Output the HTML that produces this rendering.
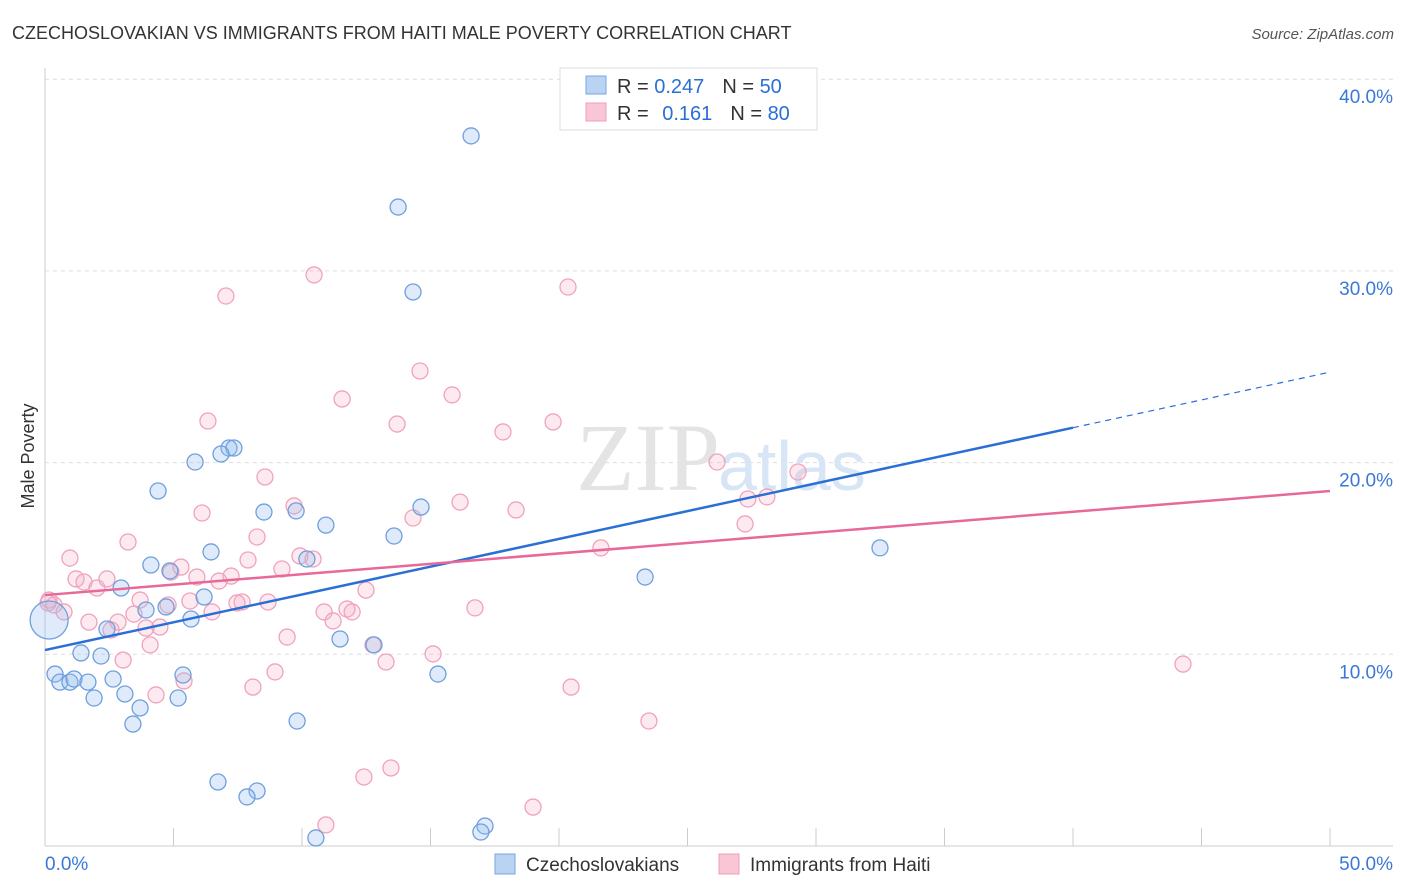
<!DOCTYPE html>
<html><head><meta charset="utf-8"><style>
body{margin:0;background:#fff;font-family:"Liberation Sans",sans-serif;}
svg{display:block}
</style></head><body>
<svg width="1406" height="892">
<text x="12" y="39" font-size="18" fill="#333">CZECHOSLOVAKIAN VS IMMIGRANTS FROM HAITI MALE POVERTY CORRELATION CHART</text>
<text x="1394" y="39" font-size="15" fill="#555" text-anchor="end" font-style="italic">Source: ZipAtlas.com</text>
<text x="34" y="456" font-size="18" fill="#333" text-anchor="middle" transform="rotate(-90 34 456)">Male Poverty</text>
<g id="grid"></g>
<text x="720" y="490" font-size="96" fill="#e4e4e4" font-family="Liberation Serif,serif" text-anchor="end">ZIP</text>
<text x="718" y="490" font-size="70" fill="#d7e5f5" text-anchor="start">atlas</text>
<g id="pts"></g>
<g id="lines"></g>
<g>
<rect x="560" y="68" width="257" height="62" fill="#fff" stroke="#ddd"/>
<rect x="586" y="76" width="20" height="18" fill="#b9d3f3" stroke="#7aa6e0"/>
<rect x="586" y="103" width="20" height="18" fill="#f9c6d6" stroke="#ee9cb8"/>
<text x="617" y="93" font-size="20" fill="#333">R = <tspan fill="#2a6fd6">0.247</tspan><tspan dx="18">N = </tspan><tspan fill="#2a6fd6">50</tspan></text>
<text x="617" y="120" font-size="20" fill="#333">R = <tspan dx="8" fill="#2a6fd6">0.161</tspan><tspan dx="18">N = </tspan><tspan fill="#2a6fd6">80</tspan></text>
</g>
<g>
<rect x="495" y="854" width="20" height="20" fill="#b9d3f3" stroke="#7aa6e0"/>
<text x="526" y="871" font-size="19" fill="#333">Czechoslovakians</text>
<rect x="719" y="854" width="20" height="20" fill="#f9c6d6" stroke="#ee9cb8"/>
<text x="750" y="871" font-size="19" fill="#333">Immigrants from Haiti</text>
</g>
</svg>
<script>
const blueX=[16.58,13.74,14.32,7.16,7.35,6.85,5.84,4.40,8.52,9.77,14.63,10.93,13.58,6.46,32.49,4.12,4.86,10.19,23.35,2.96,6.19,3.93,4.71,5.68,2.41,0.16,11.48,12.80,1.40,2.18,0.39,0.58,0.97,1.13,1.67,2.65,5.37,15.29,3.11,1.91,5.18,3.70,9.81,3.42,6.73,8.25,7.86,17.12,16.96,10.54];
const blueY=[37.04,33.33,28.90,20.76,20.76,20.45,20.03,18.52,17.42,17.48,17.68,16.74,16.17,15.34,15.55,14.66,14.35,14.97,14.03,13.46,12.99,12.31,12.47,11.84,11.32,11.79,10.80,10.49,10.07,9.91,8.97,8.55,8.55,8.71,8.55,8.71,8.92,8.97,7.93,7.72,7.72,7.20,6.52,6.36,3.34,2.87,2.56,1.04,0.73,0.42];
const pinkX=[10.47,7.04,20.35,14.59,15.84,11.56,6.34,13.70,17.82,19.77,26.15,29.30,8.56,27.35,28.09,16.15,9.69,18.33,6.11,14.32,27.24,3.23,8.25,21.63,9.92,0.97,10.43,7.90,5.29,4.90,1.21,1.52,2.02,2.41,7.24,6.77,5.91,9.22,12.49,0.16,0.35,0.74,3.70,4.79,5.64,7.67,8.68,3.46,6.50,7.47,10.86,11.75,11.95,16.73,1.71,2.84,4.47,2.57,11.21,3.93,9.42,4.09,12.76,3.04,15.10,13.27,8.95,5.41,4.32,8.09,20.47,44.28,23.50,13.46,12.41,18.99,10.93,0.12];
const pinkY=[29.79,28.69,29.16,24.78,23.53,23.32,22.17,22.01,21.60,22.12,20.03,19.51,19.25,18.10,18.21,17.94,17.74,17.53,17.37,17.11,16.80,15.86,16.12,15.55,15.13,15.02,14.97,14.92,14.55,14.29,13.93,13.77,13.46,13.93,14.08,13.82,14.03,14.45,13.35,12.83,12.57,12.21,12.83,12.57,12.78,12.73,12.73,12.10,12.21,12.68,12.21,12.36,12.21,12.42,11.68,11.68,11.42,11.27,11.74,11.37,10.90,10.49,10.49,9.70,10.02,9.60,9.08,8.61,7.88,8.29,8.29,9.49,6.52,4.07,3.60,2.03,1.10,12.68];
const blueTrend=[10.22,0.290];
const pinkTrend=[13.09,0.1086];
const yTicks=[10,20,30,40];
const yTickLabels=["10.0%","20.0%","30.0%","40.0%"];
const xTicks=[0,5,10,15,20,25,30,35,40,45,50];
const NS="http://www.w3.org/2000/svg";
const sx=v=>45+v*25.7, sy=v=>846-v*19.17;
function mk(t,a,p){const e=document.createElementNS(NS,t);for(const k in a)e.setAttribute(k,a[k]);p.appendChild(e);return e;}
const grid=document.getElementById('grid');
mk('line',{x1:45,y1:68,x2:45,y2:846,stroke:'#ccc'},grid);
mk('line',{x1:45,y1:846,x2:1393,y2:846,stroke:'#ccc'},grid);
yTicks.forEach((v,i)=>{
 const l=mk('line',{x1:45,y1:sy(v),x2:1393,y2:sy(v),stroke:'#ddd','stroke-dasharray':'4,4'},grid);
 
 
 const t=mk('text',{x:1393,y:sy(v)+24,'font-size':19,fill:'#3a78d8','text-anchor':'end'},grid);
 t.textContent=yTickLabels[i];
 
 
});
xTicks.forEach(v=>{
 const l=mk('line',{x1:sx(v),y1:828,x2:sx(v),y2:846,stroke:'#ccc'},grid);
 
 
});
let t=mk('text',{x:45,y:870,'font-size':19,fill:'#3a78d8'},grid);t.textContent='0.0%';


t=mk('text',{x:1393,y:870,'font-size':19,fill:'#3a78d8','text-anchor':'end'},grid);t.textContent='50.0%';


const pts=document.getElementById('pts');
pinkX.forEach((x,i)=>{
 const c=mk('circle',{cx:sx(x),cy:sy(pinkY[i]),r:8,fill:'rgba(246,170,196,0.25)',stroke:'#f0a2bd','stroke-width':1.3},pts);
 
 
});
blueX.forEach((x,i)=>{
 const c=mk('circle',{cx:sx(x),cy:sy(blueY[i]),r:i==25?19:8,fill:'rgba(150,190,238,0.3)',stroke:'#6f9fdd','stroke-width':1.3},pts);
 
 
});
const lines=document.getElementById('lines');
let l=mk('line',{x1:sx(0),y1:sy(blueTrend[0]),x2:sx(40),y2:sy(blueTrend[0]+40*blueTrend[1]),stroke:'#2a6fd6','stroke-width':2.5},lines);


l=mk('line',{x1:sx(40),y1:sy(blueTrend[0]+40*blueTrend[1]),x2:sx(50),y2:sy(blueTrend[0]+50*blueTrend[1]),stroke:'#2a6fd6','stroke-width':1.2,'stroke-dasharray':'6,5'},lines);


l=mk('line',{x1:sx(0),y1:sy(pinkTrend[0]),x2:sx(50),y2:sy(pinkTrend[0]+50*pinkTrend[1]),stroke:'#e8689a','stroke-width':2.5},lines);


</script>
</body></html>
